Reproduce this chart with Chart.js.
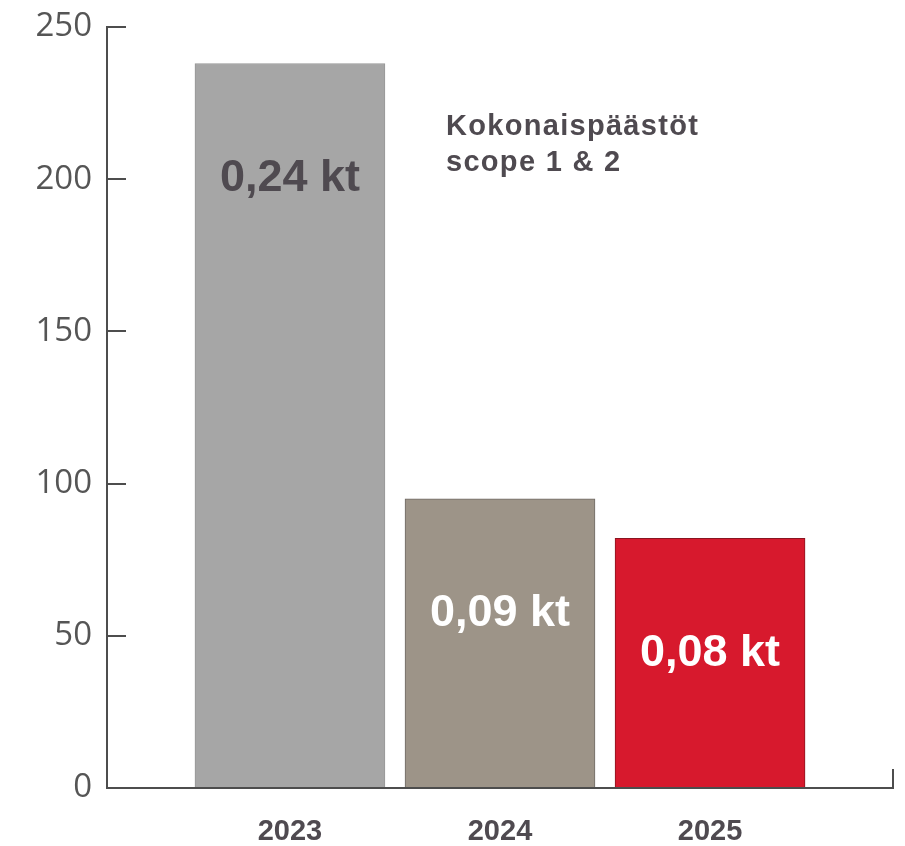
<!DOCTYPE html>
<html>
<head>
<meta charset="utf-8">
<script src="https://cdn.jsdelivr.net/npm/chart.js@4/dist/chart.umd.min.js"></script>
<style>
  html, body { margin: 0; padding: 0; background: #fff; }
  canvas { display: block; }
</style>
</head>
<body>
<canvas id="chart" width="905" height="846"></canvas>
<script>
// ─── Data ───
const YEARS = [2023, 2024, 2025];
const EMISSIONS = [238, 95, 82];               // t CO2e
const BAR_LABELS = ["0,24 kt", "0,09 kt", "0,08 kt"];
const Y_TICKS = [0, 50, 100, 150, 200, 250];
const NOTE_LINES = ["Kokonaispäästöt", "scope 1 & 2"];

// ─── Styles ───
const AXIS = "#4d4d4d";
const TEXT_DARK = "#4f4a50";
const BAR_FILL = ["#a6a6a6", "#9d9488", "#d7192d"];
const BAR_EDGE = ["#979797", "#6f6a65", "#8a1520"];
const LABEL_COLORS = [TEXT_DARK, "#ffffff", "#ffffff"];
const X_MIN = 2022.129, X_MAX = 2025.871;

// ── value labels inside the bars + note text ──
const barText = {
  id: "barText",
  afterDatasetsDraw(chart) {
    const { ctx } = chart;
    const bars = chart.getDatasetMeta(0).data;
    ctx.save();
    ctx.font = "bold 45px 'Liberation Sans', Arial, sans-serif";
    ctx.textAlign = "center";
    ctx.textBaseline = "middle";
    bars.forEach((b, i) => {
      ctx.fillStyle = LABEL_COLORS[i];
      ctx.fillText(BAR_LABELS[i], b.x, b.y + 115);
    });

    ctx.font = "bold 29px 'Liberation Sans', Arial, sans-serif";
    ctx.letterSpacing = "1.3px";
    ctx.textAlign = "left";
    ctx.textBaseline = "alphabetic";
    ctx.fillStyle = TEXT_DARK;
    NOTE_LINES.forEach((t, i) => ctx.fillText(t, 446, 135 + i * 36));
    ctx.restore();
  }
};

new Chart(document.getElementById("chart"), {
  type: "bar",
  data: {
    datasets: [{
      data: YEARS.map((y, i) => ({ x: y, y: EMISSIONS[i] })),
      backgroundColor: BAR_FILL,
      borderColor: BAR_EDGE,
      borderWidth: 1,
      barThickness: 190
    }]
  },
  plugins: [barText],
  options: {
    responsive: false,
    animation: false,
    devicePixelRatio: 1,
    layout: { padding: { top: 27, right: 12, left: 0, bottom: 0 } },
    plugins: { legend: { display: false }, tooltip: { enabled: false } },
    scales: {
      x: {
        type: "linear",
        min: X_MIN,
        max: X_MAX,
        offset: false,
        afterBuildTicks: s => { s.ticks = [...YEARS, X_MAX].map(v => ({ value: v })); },
        afterFit: s => { s.height = 58; s.paddingLeft = 0; s.paddingRight = 0; },
        grid: {
          offset: false,
          drawOnChartArea: false,
          drawTicks: true,
          tickLength: -19,
          lineWidth: 2,
          tickColor: c => (c.tick && c.tick.value === X_MAX ? AXIS : "rgba(0,0,0,0)")
        },
        border: { display: true, color: AXIS, width: 2, z: 1 },
        ticks: {
          autoSkip: false,
          maxRotation: 0,
          padding: 46,
          color: TEXT_DARK,
          font: { family: "'Liberation Sans', Arial, sans-serif", size: 29, weight: "bold" },
          callback: v => (YEARS.includes(v) ? String(v) : "")
        }
      },
      y: {
        min: 0,
        max: 250,
        afterBuildTicks: s => { s.ticks = Y_TICKS.map(v => ({ value: v })); },
        afterFit: s => { s.width = 107; s.paddingTop = 0; s.paddingBottom = 0; },
        grid: {
          drawOnChartArea: false,
          drawTicks: true,
          tickLength: -19,
          lineWidth: 2,
          tickColor: AXIS
        },
        border: { display: true, color: AXIS, width: 2, z: 1 },
        ticks: {
          padding: 34,
          color: "#555555",
          font: { family: "'Open Sans', sans-serif", size: 33 }
        }
      }
    }
  }
});
</script>
</body>
</html>
